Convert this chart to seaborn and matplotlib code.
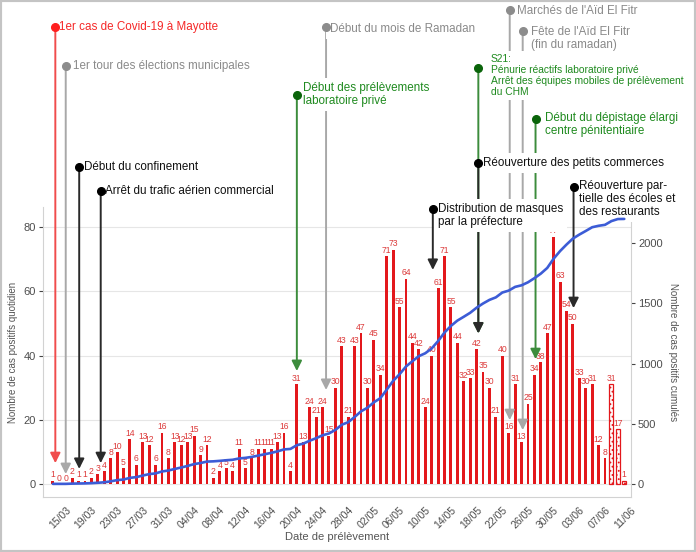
import numpy as np
import pandas as pd
import matplotlib
matplotlib.use("Agg")
import matplotlib.pyplot as plt
import seaborn as sns
from matplotlib.patches import Rectangle

# ---------------- data ----------------
first_date = "2020-03-13"
daily_cases = [1, 0, 0, 2, 1, 1, 2, 3, 4, 8,
               10, 5, 14, 6, 13, 12, 6, 16, 8, 13,
               12, 13, 15, 9, 12, 2, 4, 5, 4, 11,
               5, 8, 11, 11, 11, 13, 16, 4, 31, 13,
               24, 21, 24, 15, 30, 43, 21, 43, 47, 30,
               45, 34, 71, 73, 55, 64, 44, 42, 24, 40,
               61, 71, 55, 44, 32, 33, 42, 35, 30, 21,
               40, 16, 31, 13, 25, 34, 38, 47, 77, 63,
               54, 50, 33, 30, 31, 12, 8]
incomplete_cases = [31, 17, 1]   # last days, data not yet consolidated (hatched)

tick_labels = ["15/03", "19/03", "23/03", "27/03", "31/03", "04/04", "08/04",
               "12/04", "16/04", "20/04", "24/04", "28/04", "02/05", "06/05",
               "10/05", "14/05", "18/05", "22/05", "26/05", "30/05", "03/06",
               "07/06", "11/06"]
left_ticks = [0, 20, 40, 60, 80]
right_ticks = [0, 500, 1000, 1500, 2000]

# events: date, label, colour group
event_dates = ["14/03", "15/03", "17/03", "20/03", "24/04", "20/04", "23/05",
               "25/05", "18/05", "27/05", "18/05", "11/05", "02/06"]
event_labels = [
    "1er cas de Covid-19 à Mayotte",
    "1er tour des élections municipales",
    "Début du confinement",
    "Arrêt du trafic aérien commercial",
    "Début du mois de Ramadan",
    "Début des prélèvements\nlaboratoire privé",
    "Marchés de l'Aïd El Fitr",
    "Fête de l'Aïd El Fitr\n(fin du ramadan)",
    "S21:\nPénurie réactifs laboratoire privé\nArrêt des équipes mobiles de prélèvement\ndu CHM",
    "Début du dépistage élargi\ncentre pénitentiaire",
    "Réouverture des petits commerces",
    "Distribution de masques\npar la préfecture",
    "Réouverture par-\ntielle des écoles et\ndes restaurants",
]
event_groups = ["red", "gray", "black", "black", "gray", "green", "gray",
                "gray", "green", "green", "black", "black", "black"]

# layout of the annotations (style / placement only)
ev_nudge = [-0.62, 0.0, 0.1, 0.45, 0.55, 0.0, 0.16, 0.18, 0.27, 0.18, 0.27, 0.18, 0.1]
ev_dot_y = [142.5, 130.3, 98.8, 91.4, 142.4, 121.2, 147.7, 141.1, 129.5, 113.6, 99.9, 85.6, 92.4]
ev_tip_y = [6.5, 3.1, 4.7, 6.5, 29.3, 35.2, 19.9, 16.8, 46.9, 38.9, 46.9, 66.7, 54.8]
ev_txt_y = [142.5, 130.3, 98.8, 91.4, 141.7, 121.3, 147.5, 138.9, 127.3, 112.1, 99.9, 83.7, 88.8]
ev_txt_dx = [3.7, 7.4, 4.7, 4.3, 4.0, 6.3, 7.0, 8.3, 12.4, 9.5, 5.0, 5.0, 5.7]
ev_fs = [8.4, 8.4, 8.4, 8.4, 8.4, 8.4, 8.4, 8.4, 7.4, 8.4, 8.4, 8.4, 8.4]
ev_line_z = [4.5, 4.5, 4.5, 4.5, 3, 4.5, 3, 3, 4.5, 3, 4.5, 5.5, 4.5]
ev_box_z = [4, 4, 4, 4, 4, 4, 4, 4, 4, 4, 4, 5, 4]

palette = {
    "red":   dict(line="#f04c4c", dot="#ff1f1f", text="#f52828"),
    "gray":  dict(line="#a8a8a8", dot="#8c8c8c", text="#8a8a8a"),
    "black": dict(line="#2a2a2a", dot="#000000", text="#111111"),
    "green": dict(line="#3c8c3c", dot="#0a640a", text="#1f8a1f"),
}

# ---------------- frame ----------------
ref = pd.Timestamp("2020-03-15")
all_vals = daily_cases + incomplete_cases
dates = pd.date_range(first_date, periods=len(all_vals), freq="D")
day = np.asarray((dates - ref).days, dtype=float)
n_ok = len(daily_cases)
df = pd.DataFrame({"day": day, "cases": all_vals,
                   "cum": np.cumsum(all_vals)})

RED = "#e3181c"

sns.set_style("white")
plt.rcParams["font.family"] = ["Liberation Sans", "DejaVu Sans"]
plt.rcParams["hatch.color"] = RED
plt.rcParams["hatch.linewidth"] = 0.8

fig = plt.figure(figsize=(6.96, 5.52), dpi=100)
ax = fig.add_axes([43 / 696, 55 / 552, 588 / 696, 290 / 552])

sns.barplot(data=df.iloc[:n_ok], x="day", y="cases", native_scale=True,
            color=RED, saturation=1, width=0.45, errorbar=None, ax=ax,
            linewidth=0)
sns.barplot(data=df.iloc[n_ok:], x="day", y="cases", native_scale=True,
            color="white", saturation=1, width=0.62, errorbar=None, ax=ax,
            edgecolor=RED, linewidth=0.9, hatch="....")
for p in ax.containers[1]:
    p.set_edgecolor(RED)

for cont in ax.containers:
    ax.bar_label(cont, fontsize=6.2, color="#dc3a3a", padding=1)

ax2 = ax.twinx()
sns.lineplot(data=df, x="day", y="cum", ax=ax2, color="#3c5cd6", linewidth=1.9)
for ln in ax2.lines:
    ln.set_zorder(5.2)

# events
for i, lab in enumerate(event_labels):
    c = palette[event_groups[i]]
    x = (pd.to_datetime(event_dates[i] + "/2020", format="%d/%m/%Y") - ref).days + ev_nudge[i]
    ax2.annotate("", xy=(x, ev_tip_y[i]), xycoords=ax.transData,
                 xytext=(x, ev_dot_y[i]), textcoords=ax.transData,
                 arrowprops=dict(arrowstyle="-|>,head_length=0.6,head_width=0.3",
                                 color=c["line"], lw=1.4, shrinkA=0, shrinkB=0,
                                 mutation_scale=10),
                 annotation_clip=False, zorder=ev_line_z[i])
    ax2.plot([x], [ev_dot_y[i]], "o", ms=5.5, color=c["dot"],
             transform=ax.transData, clip_on=False, zorder=7)
    ax2.annotate(lab, xy=(x, ev_txt_y[i]), xycoords=ax.transData,
                 xytext=(ev_txt_dx[i] * 0.72, 0), textcoords="offset points",
                 ha="left", va="center", fontsize=ev_fs[i], color=c["text"],
                 linespacing=1.1, annotation_clip=False, zorder=ev_box_z[i],
                 bbox=dict(boxstyle="square,pad=0.35", fc="white", ec="none"))

# ---------------- axes styling ----------------
ax.set_xlim(-3.54, 88.05)
ax.set_ylim(-4.05, 86.3)
ax2.set_ylim(-108, 2299)

tick_days = [(pd.to_datetime(t + "/2020", format="%d/%m/%Y") - ref).days for t in tick_labels]
ax.set_xticks(tick_days)
ax.set_xticklabels(tick_labels, rotation=45, ha="right", va="top",
                   rotation_mode="anchor", fontsize=7.5, color="#4d4d4d")
ax.set_yticks(left_ticks)
ax2.set_yticks(right_ticks)
ax.tick_params(axis="both", length=3, width=0.8, color="#444444",
               labelcolor="#4d4d4d", pad=2)
ax.tick_params(axis="y", labelsize=8)
ax.tick_params(axis="x", pad=3)
ax2.tick_params(axis="y", length=3, width=0.8, color="#444444",
                labelcolor="#4d4d4d", labelsize=8, pad=2)

ax.yaxis.grid(True, color="#e6e6e6", lw=0.8)
ax.xaxis.grid(False)
ax.set_axisbelow(True)

for s in ["top", "right"]:
    ax.spines[s].set_visible(False)
for s in ["left", "bottom"]:
    ax.spines[s].set_color("#d2d2d2")
    ax.spines[s].set_linewidth(0.8)
for s in ["top", "left", "bottom"]:
    ax2.spines[s].set_visible(False)
ax2.spines["right"].set_color("#d2d2d2")
ax2.spines["right"].set_linewidth(0.8)

ax.set_xlabel("Date de prélèvement", fontsize=8, color="#555555")
ax.xaxis.set_label_coords(0.5, -0.138)
ax.xaxis.label.set(va="center")
ax.set_ylabel("Nombre de cas positifs quotidien", fontsize=7, color="#555555")
ax.yaxis.set_label_coords(-0.051, 0.5)
ax.yaxis.label.set(va="center", ha="center")
ax2.set_ylabel("Nombre de cas positifs cumulés", fontsize=7, color="#555555",
               rotation=270)
ax2.yaxis.set_label_coords(1.071, 0.5)
ax2.yaxis.label.set(va="center", ha="center")

fig.add_artist(Rectangle((0, 0), 1, 1, transform=fig.transFigure, fill=False,
                         ec="#c4c4c4", lw=3))

fig.savefig("out.png", dpi=100)
